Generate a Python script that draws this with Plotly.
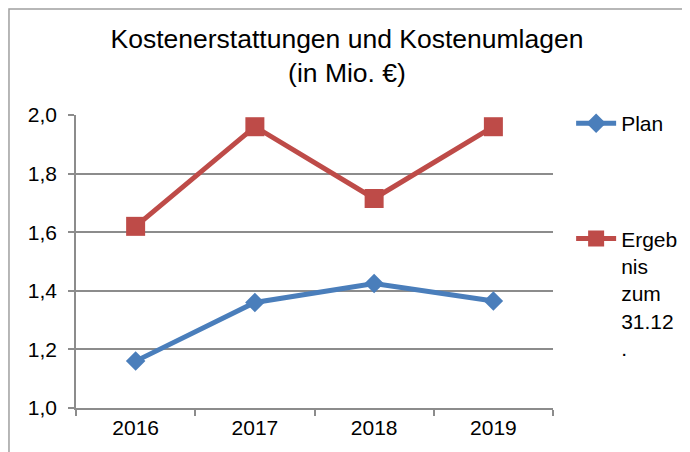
import plotly.graph_objects as go

years = ["2016", "2017", "2018", "2019"]
plan = [1.16, 1.36, 1.425, 1.365]
ergebnis = [1.62, 1.96, 1.715, 1.96]
ytick_vals = [1.0, 1.2, 1.4, 1.6, 1.8, 2.0]
ytick_text = ["1,0", "1,2", "1,4", "1,6", "1,8", "2,0"]

BLUE = "#4A7EBB"
RED = "#BE4B48"
GRID = "#8C8C8C"
FONT = "Liberation Sans, Arial, sans-serif"

fig = go.Figure()
fig.add_trace(go.Scatter(
    x=years, y=plan, name="Plan", mode="lines+markers",
    line=dict(color=BLUE, width=5),
    marker=dict(symbol="diamond", size=15, color=BLUE),
    legendgroup="a",
))
fig.add_trace(go.Scatter(
    x=years, y=ergebnis, name="Ergeb<br>nis<br>zum<br>31.12<br>.", mode="lines+markers",
    line=dict(color=RED, width=5),
    marker=dict(symbol="square", size=19, color=RED),
    legendgroup="b",
))

fig.update_layout(
    width=690, height=452,
    margin=dict(l=68, r=145, t=107, b=52),
    paper_bgcolor="white", plot_bgcolor="white",
    font=dict(family=FONT, size=21, color="black"),
    title=dict(text="Kostenerstattungen und Kostenumlagen<br>(in Mio. €)",
               x=0.4913, xanchor="center", y=0.9116, yanchor="middle",
               font=dict(family=FONT, size=26.5, color="black")),
    showlegend=True,
    legend=dict(x=1.038, xanchor="left", y=1.0405, yanchor="top",
                tracegroupgap=85, valign="top", maxheight=420,
                font=dict(family=FONT, size=21, color="black"),
                bgcolor="rgba(0,0,0,0)", itemwidth=40),
    xaxis=dict(type="category", range=[-0.5, 3.5], tickson="boundaries",
               ticks="outside", ticklen=6, tickcolor=GRID, tickwidth=1.5,
               showline=True, linecolor=GRID, linewidth=1.5,
               showgrid=False, tickfont=dict(size=21, family=FONT),
               zeroline=False),
    yaxis=dict(range=[1.0, 2.0], tickvals=ytick_vals, ticktext=ytick_text,
               ticks="outside", ticklen=6, tickcolor=GRID, tickwidth=1.5,
               showline=True, linecolor=GRID, linewidth=1.5,
               showgrid=True, gridcolor=GRID, gridwidth=1.5,
               ticklabelstandoff=7,
               tickfont=dict(size=21, family=FONT), zeroline=False),
    shapes=[dict(type="rect", xref="paper", yref="paper",
                 x0=-0.1405, x1=1.5, y0=-0.5, y1=1.362,
                 line=dict(color="#A0A0A0", width=1.5), layer="below")],
)

fig.write_html("out.html")
